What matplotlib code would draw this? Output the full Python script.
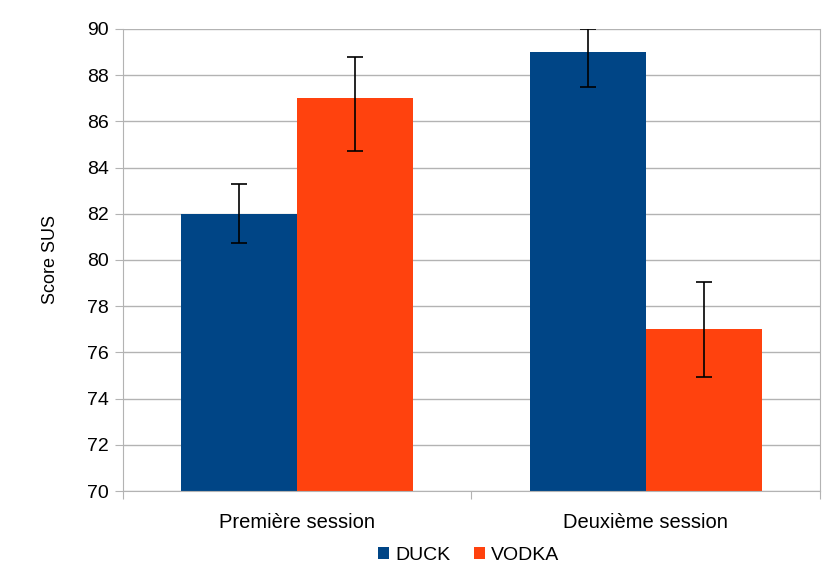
import numpy as np
import matplotlib
matplotlib.use("Agg")
import matplotlib.pyplot as plt

# Données
sessions = ["Première session", "Deuxième session"]
duck = [82, 89]
vodka = [87, 77]
duck_err_bas = [1.27, 1.5]
duck_err_haut = [1.27, 1.0]
vodka_err_bas = [2.3, 2.05]
vodka_err_haut = [1.8, 2.05]

plt.rcParams["font.family"] = ["Liberation Sans", "DejaVu Sans"]

fig = plt.figure(figsize=(8.22, 5.66), dpi=100)
ax = fig.add_axes([0.1496, 0.1325, 0.848, 0.8163])

x = np.arange(len(sessions))
w = 1 / 3
ax.bar(x - w / 2, duck, w, color="#004586", label="DUCK", zorder=2)
ax.bar(x + w / 2, vodka, w, color="#ff420e", label="VODKA", zorder=2)
ax.errorbar(x - w / 2, duck, yerr=[duck_err_bas, duck_err_haut], fmt="none",
            ecolor="black", elinewidth=1.2, capsize=6, capthick=1.2, zorder=3)
ax.errorbar(x + w / 2, vodka, yerr=[vodka_err_bas, vodka_err_haut], fmt="none",
            ecolor="black", elinewidth=1.2, capsize=6, capthick=1.2, zorder=3)

ax.set_ylim(70, 90)
ax.set_xlim(-0.5, 1.5)
ax.set_yticks(np.arange(70, 91, 2))
ax.yaxis.grid(True, color="#b3b3b3", linewidth=1, zorder=0)
ax.set_axisbelow(True)

ax.set_xticks([-0.5, 0.5, 1.5])
ax.set_xticklabels([])
ax.set_xticks(x, minor=True)
ax.set_xticklabels(sessions, minor=True, fontsize=14.5)
ax.tick_params(axis="x", which="minor", length=0, pad=16)
ax.tick_params(axis="x", which="major", length=6, color="#b3b3b3")
ax.tick_params(axis="y", labelsize=14, length=6, color="#b3b3b3", pad=4)

for s in ax.spines.values():
    s.set_color("#b3b3b3")
ax.spines["top"].set_visible(False)

ax.set_ylabel("Score SUS", fontsize=13, labelpad=20)

fig.legend(loc="lower center", bbox_to_anchor=(0.57, -0.027), ncol=2, frameon=False,
           fontsize=14, handlelength=0.6, handleheight=0.6, handletextpad=0.3,
           columnspacing=1.2)

fig.savefig("out.png", dpi=100)
